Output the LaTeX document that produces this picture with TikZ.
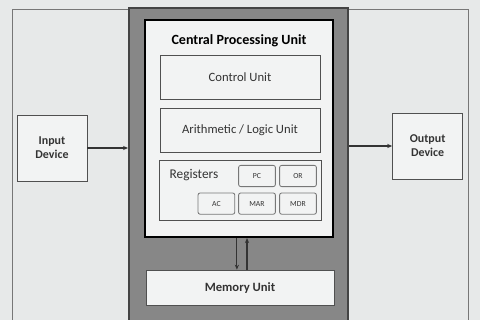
\documentclass[tikz,border=0pt]{standalone}
\usepackage{fontspec}
\setmainfont{Carlito}
\usepackage{tikz}
\usetikzlibrary{arrows.meta}
\definecolor{paper}{HTML}{E7E9E9}
\definecolor{boxfill}{HTML}{F2F3F3}
\definecolor{panel}{HTML}{878787}
\definecolor{panelline}{HTML}{444444}
\definecolor{boxline}{HTML}{505050}
\definecolor{regline}{HTML}{777777}
\definecolor{ink}{HTML}{333333}
\tikzset{
    unitbox/.style={draw=boxline, fill=boxfill, line width=.7pt,
    	minimum width=4cm, minimum height=1.1cm, text=ink,
    	font=\fontsize{9}{10.5}\selectfont},
    regbox/.style={draw=regline, fill=boxfill, rounded corners=1.5pt,
    	line width=.6pt, minimum width=.92cm, minimum height=.53cm, text=ink,
    	font=\fontsize{5.5}{6.5}\selectfont},
    devbox/.style={draw=boxline, fill=boxfill, line width=.7pt,
    	minimum width=1.75cm, minimum height=1.65cm, align=center, text=ink,
    	font=\bfseries\fontsize{8.5}{10}\selectfont},
    link/.style={-{Stealth[length=3.5pt, width=3pt]}, line width=.8pt, draw=ink}
}

\begin{document}
\begin{tikzpicture}
  \useasboundingbox (0,0) rectangle (12,8);
  \fill[paper] (0,0) rectangle (12,8);
  \draw[regline, line width=.5pt] (0.3,-0.2) |- (11.7,7.775) -- (11.7,-0.2);

  \node (sys) [fill=panel, draw=panelline, line width=1.5pt,
  	minimum width=5.475cm, minimum height=8.1cm] at (5.9625,3.75) {};
  \node (cpu) [fill=boxfill, draw=black, line width=1.6pt,
  	minimum width=4.7cm, minimum height=5.425cm] at (5.975,4.7875) {};
  \node (title) [font=\bfseries\fontsize{10}{12}\selectfont] at (5.975,6.975)
  	{Central Processing Unit};

  \node (cu) [unitbox] at (6.0,6.06) {Control Unit};
  \node (alu) [unitbox] at (6.0,4.75) {Arithmetic / Logic Unit};
  \node (regs) [unitbox, minimum width=4.05cm, minimum height=1.5cm]
  	at (6.02,3.25) {};
  \node (reglbl) [text=ink, font=\fontsize{9.5}{11}\selectfont] at (4.85,3.63)
  	{Registers};
  \node (pc) [regbox] at (6.425,3.6) {PC};
  \node (or) [regbox] at (7.45,3.6) {OR};
  \node (ac) [regbox] at (5.41,2.91) {AC};
  \node (mar) [regbox] at (6.425,2.91) {MAR};
  \node (mdr) [regbox] at (7.45,2.91) {MDR};

  \node (mem) [unitbox, minimum width=4.7cm, minimum height=.875cm,
  	font=\bfseries\fontsize{9}{10.5}\selectfont] at (6.0,0.81) {Memory Unit};

  \node (in) [devbox] at (1.3,4.3) {Input\\Device};
  \node (out) [devbox] at (10.69,4.35) {Output\\Device};

  \draw[link] (in) -- (in -| sys.west);
  \draw[link] (sys.east |- out.west) -- (out);
  \draw[link] ([xshift=-1.5pt]cpu.south) -- ([xshift=-1.5pt]cpu.south |- mem.north);
  \draw[link] ([xshift=5.7pt]cpu.south |- mem.north) -- ([xshift=5.7pt]cpu.south);
\end{tikzpicture}
\end{document}
